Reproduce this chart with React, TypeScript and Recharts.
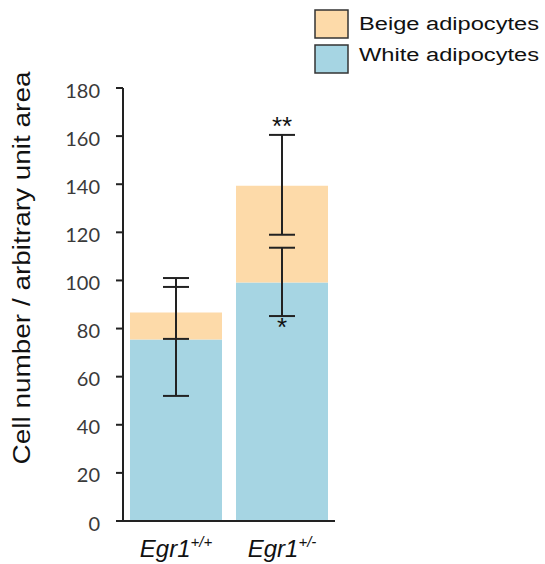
import { ComposedChart, Bar, Line, XAxis, YAxis, ErrorBar, Legend, ReferenceDot } from "recharts";

const gene = "Egr1";
const genotypes = ["+/+", "+/-"];
const whiteCells = [75.5, 99.1];
const beigeCells = [11.2, 40.3];
// error bars as [below, above]
const whiteErr = [[23.5, 21.8], [13.9, 14.5]];
const totalErr = [[11.0, 14.3], [20.4, 21.1]];
const yTicks = [0, 20, 40, 60, 80, 100, 120, 140, 160, 180];
const legendOrder = ["Beige adipocytes", "White adipocytes"];
const stars = [
  { idx: 1, on: "total", text: "**" },
  { idx: 1, on: "white", text: "*" },
];

const blue = "#a6d5e3";
const beige = "#fddaa9";
const ink = "#222";
const sans = "'Liberation Sans', Arial, Helvetica, sans-serif";

const data = genotypes.map((g, i) => ({
  name: gene + g,
  white: whiteCells[i],
  beige: beigeCells[i],
  total: whiteCells[i] + beigeCells[i],
  whiteErr: whiteErr[i],
  totalErr: totalErr[i],
}));

const starMarks = stars.map((s) => ({
  ...s,
  x: data[s.idx].name,
  y: s.on === "total" ? data[s.idx].total + totalErr[s.idx][1] : data[s.idx].white - whiteErr[s.idx][0],
}));

function YTick({ x, y, payload }: any) {
  return (
    <text x={x} y={y} dy={9.5} textAnchor="end" fontFamily="Lato, 'Open Sans', sans-serif" fontSize={20} fill="#3a3a3a">
      {payload.value}
    </text>
  );
}

function XTick({ x, y, payload }: any) {
  const sup = String(payload.value).replace(gene, "");
  return (
    <text x={x} y={y + 36} textAnchor="middle" fontFamily={sans} fontStyle="italic" fontSize={24} fill="#111">
      <tspan>{gene}</tspan>
      <tspan fontSize={15} dy={-10}>{sup}</tspan>
    </text>
  );
}

function AxisTitle() {
  return (
    <text x={30} y={268} transform="rotate(-90, 30, 268)" textAnchor="middle" fontFamily={sans} fontSize={23}
      fill="#111" textLength={393} lengthAdjust="spacingAndGlyphs">
      Cell number / arbitrary unit area
    </text>
  );
}

function StarLabel({ viewBox, text, shift }: any) {
  const cx = viewBox.x + (viewBox.width || 0) / 2;
  const cy = viewBox.y + (viewBox.height || 0) / 2;
  return (
    <text x={cx} y={cy + shift} textAnchor="middle" fontFamily={sans} fontSize={26} fill="#111">
      {text}
    </text>
  );
}

function LegendBox({ payload }: any) {
  const items = (payload ?? [])
    .filter((p: any) => legendOrder.includes(p.value))
    .sort((a: any, b: any) => legendOrder.indexOf(a.value) - legendOrder.indexOf(b.value));
  return (
    <svg width={545} height={80}>
      {items.map((p: any, i: number) => (
        <g key={p.value}>
          <rect x={315} y={10 + i * 35} width={33} height={28} fill={p.color} stroke="#333" strokeWidth={1.5} />
          <text x={359} y={30 + i * 31} fontFamily={sans} fontSize={18} fill="#111" textLength={180} lengthAdjust="spacingAndGlyphs">
            {p.value}
          </text>
        </g>
      ))}
    </svg>
  );
}

export default function App() {
  return (
    <div style={{ position: "absolute", left: 0, top: 0, background: "#fff" }}>
      <ComposedChart width={545} height={564} data={data} margin={{ top: 88, right: 210, bottom: 0, left: 0 }}>
        <XAxis dataKey="name" height={43} tick={<XTick />} tickLine={false} tickSize={0} tickMargin={0}
          axisLine={{ stroke: ink, strokeWidth: 2 }} />
        <YAxis width={123} domain={[0, 180]} ticks={yTicks} interval={0} tick={<YTick />} tickSize={7} tickMargin={16}
          tickLine={{ stroke: ink, strokeWidth: 2 }} axisLine={{ stroke: ink, strokeWidth: 2 }} label={<AxisTitle />} />
        <Legend verticalAlign="middle" align="center" wrapperStyle={{ top: 0, left: 0, width: 545 }} content={<LegendBox />} />
        <Bar dataKey="white" name="White adipocytes" stackId="a" fill={blue} barSize={92} isAnimationActive={false} />
        <Bar dataKey="beige" name="Beige adipocytes" stackId="a" fill={beige} barSize={92} isAnimationActive={false} />
        <Line dataKey="white" stroke="none" dot={false} activeDot={false} legendType="none" isAnimationActive={false}>
          <ErrorBar dataKey="whiteErr" width={13} stroke={ink} strokeWidth={2} isAnimationActive={false} />
        </Line>
        <Line dataKey="total" stroke="none" dot={false} activeDot={false} legendType="none" isAnimationActive={false}>
          <ErrorBar dataKey="totalErr" width={13} stroke={ink} strokeWidth={2} isAnimationActive={false} />
        </Line>
        {starMarks.map((s) => (
          <ReferenceDot key={s.on} x={s.x} y={s.y} r={0} fill="none" stroke="none"
            label={<StarLabel text={s.text} shift={s.on === "total" ? 0.5 : 19.5} />} />
        ))}
      </ComposedChart>
    </div>
  );
}
